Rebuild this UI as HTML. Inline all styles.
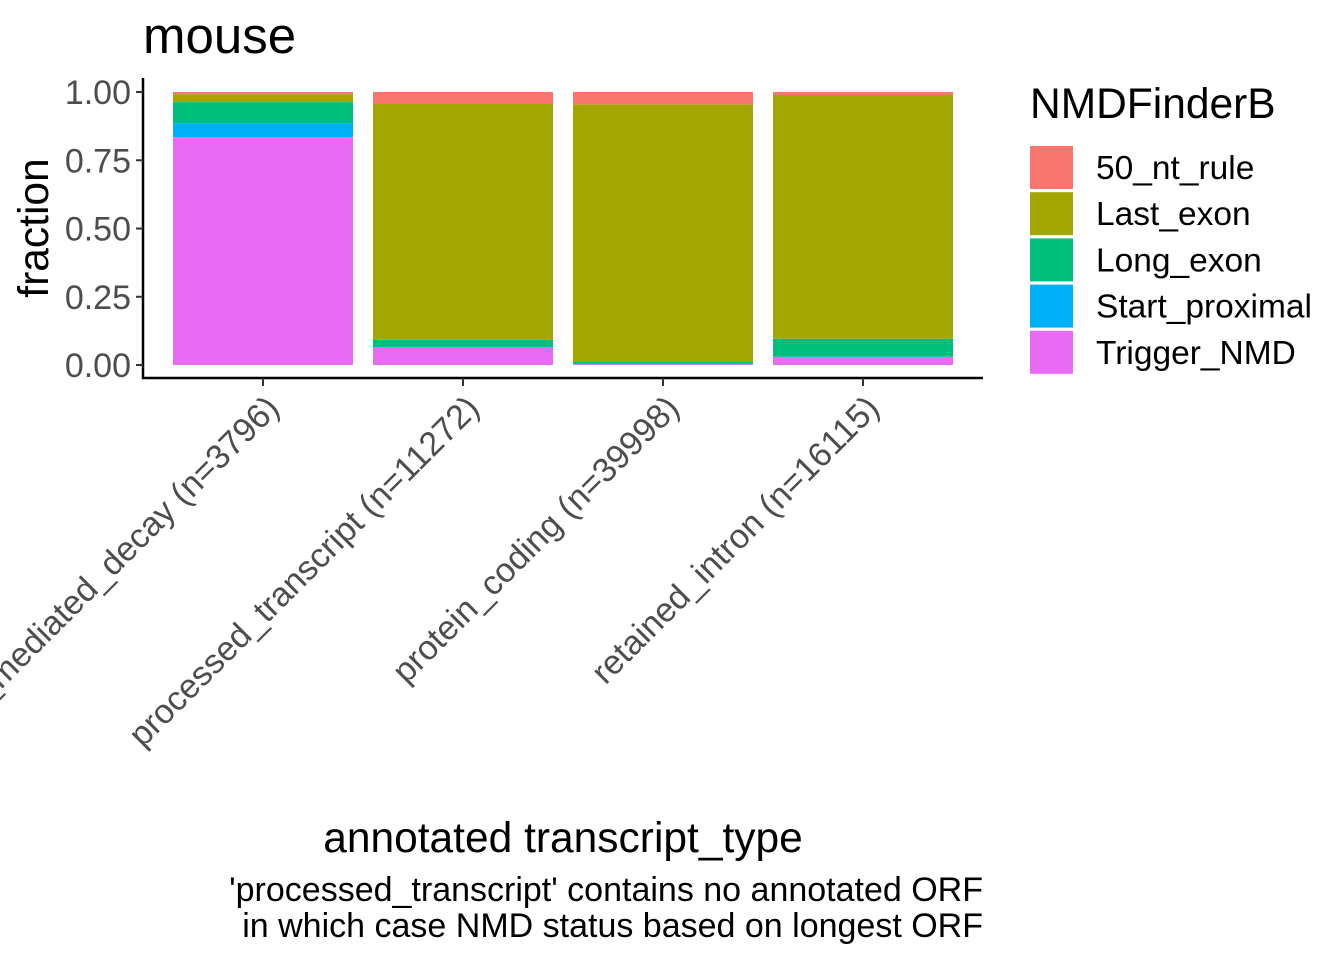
<!DOCTYPE html>
<html><head><meta charset="utf-8"><style>
body{margin:0;background:#fff}
svg{display:block;font-family:"Liberation Sans",Arial,sans-serif}
</style></head><body>
<svg id="chart" width="1344" height="960" viewBox="0 0 1344 960">
<text x="143" y="53" font-size="51" fill="#000">mouse</text>
<g id="bars"></g>
<g id="yaxis"></g>
<g id="xaxis"></g>
<text transform="translate(48,228) rotate(-90)" text-anchor="middle" font-size="42.5">fraction</text>
<text x="563" y="852" text-anchor="middle" font-size="42.5">annotated transcript_type</text>
<text x="983" y="901" text-anchor="end" font-size="34">'processed_transcript' contains no annotated ORF</text>
<text x="983" y="937" text-anchor="end" font-size="34">in which case NMD status based on longest ORF</text>
<text x="1030" y="118" font-size="42.5">NMDFinderB</text>
<g id="legend"></g>
</svg>
<script>
const categories = ["nonsense_mediated_decay (n=3796)","processed_transcript (n=11272)","protein_coding (n=39998)","retained_intron (n=16115)"];
const seriesNames = ["50_nt_rule","Last_exon","Long_exon","Start_proximal","Trigger_NMD"];
const trigger = [0.835,0.066,0.003,0.029];
const startProx = [0.051,0.0,0.001,0.001];
const longExon = [0.077,0.026,0.007,0.066];
const lastExon = [0.029,0.864,0.944,0.893];
const nt50 = [0.008,0.044,0.045,0.011];
const yTicks = [0,0.25,0.5,0.75,1];
const yTickLabels = ["0.00","0.25","0.50","0.75","1.00"];
const colors = {"50_nt_rule":"#F8766D","Last_exon":"#A3A500","Long_exon":"#00BF7D","Start_proximal":"#00B0F6","Trigger_NMD":"#E76BF3"};

const NS="http://www.w3.org/2000/svg";
const y0=365, y1=92;
const yScale=v=>y0-(y0-y1)*v;
const xLeft=143, xRight=983;
const step=(xRight-xLeft)/(categories.length-1+1.2);
const xScale=i=>xLeft+step*(0.6+i);
const bw=step*0.9;
function mk(tag,attrs,parent){const e=document.createElementNS(NS,tag);for(const k in attrs)e.setAttribute(k,attrs[k]);parent.appendChild(e);return e;}
const bars=document.getElementById('bars');
const stackOrder=[["Trigger_NMD",trigger],["Start_proximal",startProx],["Long_exon",longExon],["Last_exon",lastExon],["50_nt_rule",nt50]];
categories.forEach((c,i)=>{
  let cum=0;
  stackOrder.forEach(([name,arr])=>{
    const v=arr[i];
    const top=yScale(cum+v), bot=yScale(cum);
    const r=mk('rect',{x:xScale(i)-bw/2,y:top,width:bw,height:Math.max(0,bot-top),fill:colors[name]},bars);
    
    
    cum+=v;
  });
});
const ya=document.getElementById('yaxis');
const yl=mk('line',{x1:xLeft,y1:78,x2:xLeft,y2:379,stroke:'#000','stroke-width':2.5},ya);


yTicks.forEach((t,i)=>{
  const y=yScale(t);
  const tk=mk('line',{x1:xLeft-7,y1:y,x2:xLeft,y2:y,stroke:'#333','stroke-width':2},ya);
  
  
  const tx=mk('text',{x:xLeft-12,y:y+12,'text-anchor':'end','font-size':34,fill:'#4d4d4d'},ya);
  tx.textContent=yTickLabels[i];
  
  
});
const xa=document.getElementById('xaxis');
const xl=mk('line',{x1:xLeft-1,y1:378,x2:xRight,y2:378,stroke:'#000','stroke-width':2.5},xa);


categories.forEach((c,i)=>{
  const x=xScale(i);
  const tk=mk('line',{x1:x,y1:378,x2:x,y2:386,stroke:'#333','stroke-width':2},xa);
  
  
  const tx=mk('text',{transform:`translate(${x+18},410) rotate(-45)`,'text-anchor':'end','font-size':34,fill:'#4d4d4d'},xa);
  tx.textContent=c;
  
  
});
const lg=document.getElementById('legend');
seriesNames.forEach((n,i)=>{
  const y=146+i*46.2;
  const r=mk('rect',{x:1030,y:y,width:43,height:43,fill:colors[n]},lg);
  
  
  const t=mk('text',{x:1096,y:y+33,'font-size':33.5,fill:'#000'},lg);
  t.textContent=n;
  
  
});
</script>
</body></html>
